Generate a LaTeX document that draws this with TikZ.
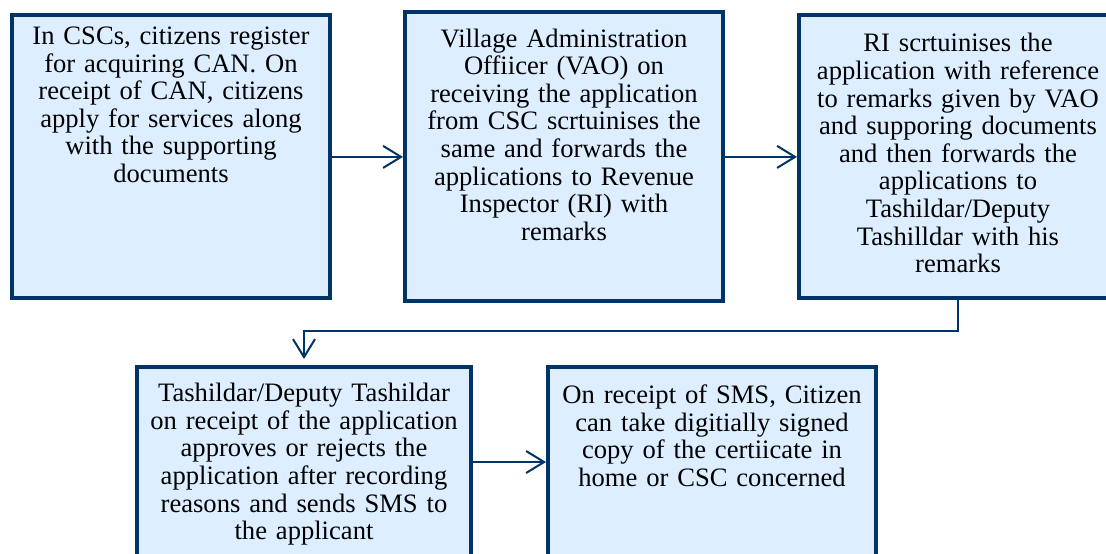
\documentclass[tikz,border=0pt]{standalone}
\usepackage{fontspec}
\setmainfont{Liberation Serif}
\usetikzlibrary{positioning,arrows.meta}
\definecolor{navy}{RGB}{0,51,102}
\definecolor{paleblue}{RGB}{220,238,255}
\tikzset{
  stage/.style={draw=navy, fill=paleblue, line width=2pt, inner sep=0pt,
    align=center, font=\fontsize{13.3pt}{13.8pt}\selectfont},
  flow/.style={draw=navy, line width=1pt, -{Straight Barb[length=9pt,width=11pt]}}
}
\begin{document}
\begin{tikzpicture}[node distance = 35.5pt]
      \useasboundingbox (0,0) rectangle (553pt,-276.5pt);
      \node [stage, anchor=north west, text width=159pt, text height=14.5pt, text depth=127pt]
            (csc) at (5pt,-6.7pt) {In CSCs, citizens register\\ for acquiring CAN. On\\ receipt of CAN, citizens\\ apply for services along\\ with the supporting\\ documents};
      \node [stage, right = of csc, text width=159pt, text height=17.3pt, text depth=127.2pt]
            (vao) {Village Administration\\ Offiicer (VAO) on\\ receiving the application\\ from CSC scrtuinises the\\ same and forwards the\\ applications to Revenue\\ Inspector (RI) with\\ remarks};
      \node [stage, right = 36pt of vao, text width=159pt, text height=18.2pt, text depth=123.3pt]
            (ri) {RI scrtuinises the\\ application with reference\\ to remarks given by VAO\\ and supporing documents\\ and then forwards the\\ applications to\\ Tashildar/Deputy\\ Tashilldar with his\\ remarks};
      \node [stage, anchor=north, text width=167pt, text height=17.3pt, text depth=77.7pt]
            (tash) at (152pt,-182.5pt) {Tashildar/Deputy Tashildar\\ on receipt of the application\\ approves or rejects the\\ application after recording\\ reasons and sends SMS to\\ the applicant};
      \node [stage, right = 36.5pt of tash, text width=164pt, text height=18.3pt, text depth=76.7pt]
            (sms) {On receipt of SMS, Citizen\\ can take digitially signed\\ copy of the certiicate in\\ home or CSC concerned};
      \path[flow] (csc) edge (vao)
                  (vao) edge (ri)
                  (tash) edge (sms)
      ;
      \draw[flow, shorten >=3pt] (ri.south) -- ++(0,-15.5pt) -| (tash.north);
    \end{tikzpicture}
\end{document}
